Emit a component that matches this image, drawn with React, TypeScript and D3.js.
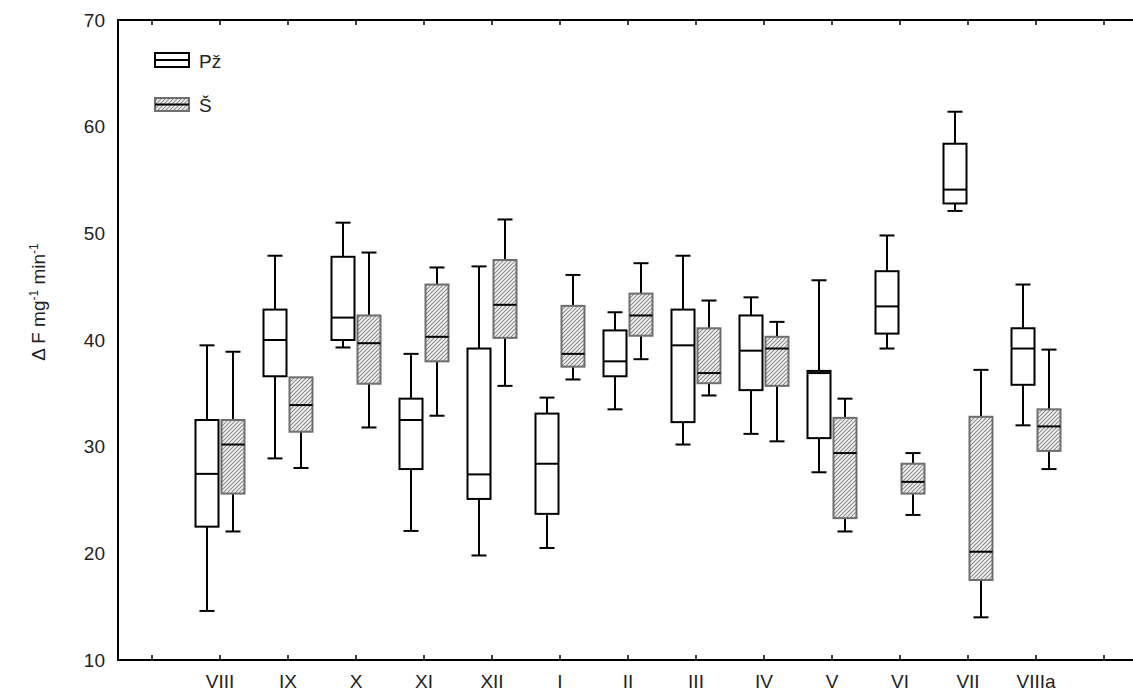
import React from "react";
import * as d3 from "d3";

const categories = ["VIII", "IX", "X", "XI", "XII", "I", "II", "III", "IV", "V", "VI", "VII", "VIIIa"];
const yTicks = [10, 20, 30, 40, 50, 60, 70];

// Pž series (open boxes)
const pzMin = [14.6, 28.9, 39.3, 22.1, 19.8, 20.5, 33.5, 30.2, 31.2, 27.6, 39.2, 52.1, 32.0];
const pzQ1 = [22.5, 36.6, 40.0, 27.9, 25.1, 23.7, 36.6, 32.3, 35.3, 30.8, 40.6, 52.8, 35.8];
const pzMed = [27.45, 40.0, 42.1, 32.5, 27.4, 28.4, 38.0, 39.5, 39.0, 36.9, 43.15, 54.1, 39.2];
const pzQ3 = [32.5, 42.85, 47.8, 34.5, 39.2, 33.1, 40.9, 42.85, 42.3, 37.1, 46.45, 58.4, 41.1];
const pzMax = [39.5, 47.9, 51.0, 38.7, 46.9, 34.6, 42.6, 47.9, 44.0, 45.6, 49.8, 61.4, 45.2];

// Š series (hatched boxes)
const sMin = [22.05, 28.0, 31.8, 32.9, 35.7, 36.3, 38.2, 34.8, 30.5, 22.05, 23.6, 14.0, 27.9];
const sQ1 = [25.6, 31.4, 35.9, 38.0, 40.2, 37.5, 40.4, 35.95, 35.7, 23.3, 25.6, 17.5, 29.6];
const sMed = [30.2, 33.9, 39.7, 40.3, 43.3, 38.7, 42.3, 36.9, 39.2, 29.4, 26.7, 20.15, 31.9];
const sQ3 = [32.5, 36.5, 42.3, 45.2, 47.5, 43.2, 44.35, 41.1, 40.3, 32.7, 28.4, 32.8, 33.5];
const sMax = [38.9, 36.5, 48.2, 46.8, 51.3, 46.1, 47.2, 43.7, 41.7, 34.5, 29.4, 37.2, 39.1];

const W = 1133;
const H = 691;
const FONT = "'Liberation Sans', Arial, sans-serif";

export default function App() {
  // index 0 and 14 are blank tick positions; categories occupy 1..13
  const x = d3.scaleLinear().domain([-0.5, 15.5]).range([118, 118 + 68 * 16]);
  const y = d3.scaleLinear().domain([10, 70]).range([660, 20]);
  const tickIdx = d3.range(0, 16);
  const boxW = 23;
  const capW = 15;
  const off = 13;

  const series = [
    { key: "pz", min: pzMin, q1: pzQ1, med: pzMed, q3: pzQ3, max: pzMax, dx: -off, fill: "white", stroke: "#000" },
    { key: "s", min: sMin, q1: sQ1, med: sMed, q3: sQ3, max: sMax, dx: off, fill: "url(#hatch)", stroke: "#6e6e6e" },
  ];

  const left = x(-0.5);
  const bottom = y(10);
  const top = y(70);

  return (
    <svg width={W} height={H} style={{ position: "absolute", left: 0, top: 0, background: "white" }} fontFamily={FONT}>
      <defs>
        <pattern id="hatch" patternUnits="userSpaceOnUse" width={4} height={4}>
          <rect width={4} height={4} fill="#f4f4f4" />
          <path d="M-1,1 l2,-2 M0,4 l4,-4 M3,5 l2,-2" stroke="#8a8a8a" strokeWidth={1.1} />
        </pattern>
      </defs>
      <rect width={W} height={H} fill="white" />

      {/* boxes */}
      {series.map((s) =>
        categories.map((c, i) => {
          const cx = x(i + 1) + s.dx;
          const yq1 = y(s.q1[i]);
          const yq3 = y(s.q3[i]);
          return (
            <g key={s.key + c}>
              {s.max[i] > s.q3[i] && (
                <>
                  <line x1={cx} x2={cx} y1={y(s.max[i])} y2={yq3} stroke="#000" strokeWidth={2} />
                  <line x1={cx - capW / 2} x2={cx + capW / 2} y1={y(s.max[i])} y2={y(s.max[i])} stroke="#000" strokeWidth={2} />
                </>
              )}
              {s.min[i] < s.q1[i] && (
                <>
                  <line x1={cx} x2={cx} y1={y(s.min[i])} y2={yq1} stroke="#000" strokeWidth={2} />
                  <line x1={cx - capW / 2} x2={cx + capW / 2} y1={y(s.min[i])} y2={y(s.min[i])} stroke="#000" strokeWidth={2} />
                </>
              )}
              <rect x={cx - boxW / 2} y={yq3} width={boxW} height={yq1 - yq3} fill={s.fill} stroke={s.stroke} strokeWidth={2} />
              <line x1={cx - boxW / 2} x2={cx + boxW / 2} y1={y(s.med[i])} y2={y(s.med[i])} stroke="#000" strokeWidth={2} />
            </g>
          );
        })
      )}

      {/* axes frame */}
      <line x1={left} x2={left} y1={top} y2={bottom} stroke="#000" strokeWidth={2} />
      <line x1={left - 1} x2={W} y1={bottom} y2={bottom} stroke="#000" strokeWidth={2} />
      <line x1={left - 1} x2={W} y1={top} y2={top} stroke="#000" strokeWidth={2} />
      {tickIdx.map((t) => (
        <g key={"t" + t}>
          <line x1={x(t)} x2={x(t)} y1={bottom} y2={bottom - 5} stroke="#000" strokeWidth={1.5} />
          <line x1={x(t)} x2={x(t)} y1={top} y2={top + 5} stroke="#000" strokeWidth={1.5} />
        </g>
      ))}

      {/* y tick labels */}
      {yTicks.map((v) => (
        <text key={"y" + v} x={left - 13} y={y(v)} textAnchor="end" dominantBaseline="central" fontSize={19} fill="#222">
          {v}
        </text>
      ))}

      {/* x labels */}
      {categories.map((c, i) => (
        <text key={"x" + c} x={x(i + 1)} y={688} textAnchor="middle" fontSize={19} fill="#222">
          {c}
        </text>
      ))}

      {/* y axis title */}
      <text transform={`translate(45,${302}) rotate(-90)`} textAnchor="middle" fontSize={19} fill="#222">
        <tspan>Δ F mg</tspan>
        <tspan fontSize={12} baselineShift="super">-1</tspan>
        <tspan> min</tspan>
        <tspan fontSize={12} baselineShift="super">-1</tspan>
      </text>

      {/* legend */}
      <rect x={155} y={53} width={34} height={14} fill="white" stroke="#000" strokeWidth={2} />
      <line x1={155} x2={189} y1={60} y2={60} stroke="#000" strokeWidth={2} />
      <text x={199} y={68} fontSize={19} fill="#222">Pž</text>
      <rect x={155} y={98} width={34} height={13} fill="url(#hatch)" stroke="#6e6e6e" strokeWidth={2} />
      <line x1={155} x2={189} y1={104.5} y2={104.5} stroke="#000" strokeWidth={2} />
      <text x={199} y={112} fontSize={19} fill="#222">Š</text>
    </svg>
  );
}
